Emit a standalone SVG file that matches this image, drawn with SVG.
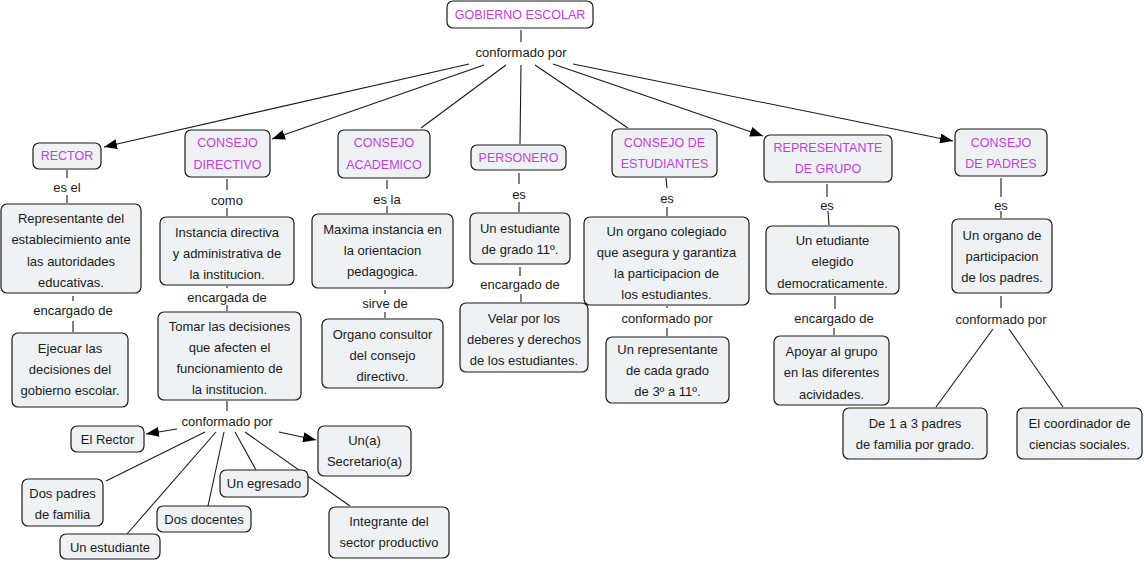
<svg xmlns="http://www.w3.org/2000/svg" width="1144" height="562" viewBox="0 0 1144 562">
<style>
.n rect{fill:#eef2f4;stroke:#1a1a1a;stroke-width:1.2}
.n text,.lbl{font-family:"Liberation Sans",Arial,sans-serif;font-size:13px;fill:#1a1a1a;text-anchor:middle;dominant-baseline:central}
.t text{fill:#c23ee0;font-size:12.5px}
.c line{stroke:#1a1a1a;stroke-width:1.1}
</style>
<defs>
<marker id="ah" markerUnits="userSpaceOnUse" markerWidth="14" markerHeight="10" refX="13" refY="5" orient="auto"><path d="M0,0 L13,5 L0,10 z" fill="#000"/></marker>
</defs>
<rect width="1144" height="562" fill="#fff"/>

<g id="connectors" class="c">
<line x1="521" y1="30" x2="521" y2="42"/>
<line x1="469" y1="64" x2="104" y2="147" marker-end="url(#ah)"/>
<line x1="484" y1="65" x2="272" y2="139" marker-end="url(#ah)"/>
<line x1="506" y1="65" x2="421" y2="128"/>
<line x1="521" y1="65" x2="520" y2="144"/>
<line x1="535" y1="65" x2="628" y2="128"/>
<line x1="553" y1="64" x2="763" y2="136" marker-end="url(#ah)"/>
<line x1="573" y1="64" x2="953" y2="141" marker-end="url(#ah)"/>
<!-- rector -->
<line x1="67" y1="170" x2="67" y2="178"/>
<line x1="67" y1="195" x2="67" y2="203"/>
<line x1="73" y1="296" x2="73" y2="301"/>
<line x1="73" y1="321" x2="73" y2="332"/>
<!-- consejo directivo -->
<line x1="227" y1="179" x2="227" y2="190"/>
<line x1="227" y1="208" x2="227" y2="216"/>
<line x1="227" y1="286" x2="227" y2="288"/>
<line x1="227" y1="305" x2="227" y2="311"/>
<line x1="227" y1="401" x2="227" y2="411"/>
<line x1="177" y1="429" x2="146" y2="434" marker-end="url(#ah)"/>
<line x1="279" y1="432" x2="316" y2="440" marker-end="url(#ah)"/>
<line x1="205" y1="432" x2="106" y2="481"/>
<line x1="216" y1="432" x2="127" y2="534"/>
<line x1="224" y1="432" x2="208" y2="506"/>
<line x1="235" y1="432" x2="256" y2="470"/>
<line x1="245" y1="432" x2="350" y2="506"/>
<!-- academico -->
<line x1="387" y1="180" x2="387" y2="189"/>
<line x1="387" y1="206" x2="387" y2="213"/>
<line x1="385" y1="290" x2="385" y2="294"/>
<line x1="385" y1="312" x2="385" y2="318"/>
<!-- personero -->
<line x1="519" y1="173" x2="519" y2="184"/>
<line x1="519" y1="202" x2="519" y2="212"/>
<line x1="520" y1="267" x2="520" y2="276"/>
<line x1="521" y1="294" x2="521" y2="302"/>
<!-- estudiantes -->
<line x1="666" y1="178" x2="667" y2="188"/>
<line x1="667" y1="207" x2="667" y2="216"/>
<line x1="667" y1="306" x2="667" y2="308"/>
<line x1="667" y1="328" x2="667" y2="336"/>
<!-- representante -->
<line x1="827" y1="184" x2="827" y2="197"/>
<line x1="828" y1="211" x2="829" y2="225"/>
<line x1="835" y1="296" x2="835" y2="309"/>
<line x1="834" y1="328" x2="834" y2="335"/>
<!-- padres -->
<line x1="1001" y1="178" x2="1001" y2="197"/>
<line x1="1001" y1="211" x2="1001" y2="218"/>
<line x1="1001" y1="296" x2="1001" y2="308"/>
<line x1="993" y1="329" x2="936" y2="407"/>
<line x1="1009" y1="329" x2="1063" y2="407"/>
</g>

<g id="labels">
<text class="lbl" x="521" y="52">conformado por</text>
<text class="lbl" x="67" y="187">es el</text>
<text class="lbl" x="73" y="310">encargado de</text>
<text class="lbl" x="227" y="200">como</text>
<text class="lbl" x="227" y="297">encargada de</text>
<text class="lbl" x="227" y="421">conformado por</text>
<text class="lbl" x="387" y="199">es la</text>
<text class="lbl" x="385" y="303">sirve de</text>
<text class="lbl" x="519" y="194">es</text>
<text class="lbl" x="520" y="284">encargado de</text>
<text class="lbl" x="667" y="198">es</text>
<text class="lbl" x="667" y="318">conformado por</text>
<text class="lbl" x="827" y="205">es</text>
<text class="lbl" x="834" y="318">encargado de</text>
<text class="lbl" x="1001" y="205">es</text>
<text class="lbl" x="1001" y="319">conformado por</text>
</g>

<g id="gobierno" class="n t"><rect x="447" y="1" width="146" height="27" rx="6" style="fill:#fff"/><text x="520" y="14.5">GOBIERNO ESCOLAR</text></g>
<g id="rector" class="n t"><rect x="33" y="143" width="68" height="26" rx="6"/><text x="67" y="156">RECTOR</text></g>
<g id="consejo-directivo" class="n t"><rect x="185" y="130" width="85" height="47" rx="6"/><text x="227.5" y="143">CONSEJO</text><text x="227.5" y="165">DIRECTIVO</text></g>
<g id="consejo-academico" class="n t"><rect x="338" y="130" width="92" height="48" rx="6"/><text x="384" y="143">CONSEJO</text><text x="384" y="165">ACADEMICO</text></g>
<g id="personero" class="n t"><rect x="471" y="145" width="95" height="25" rx="6"/><text x="518.5" y="157.5">PERSONERO</text></g>
<g id="consejo-estudiantes" class="n t"><rect x="612" y="129" width="105" height="48" rx="6"/><text x="664.5" y="143">CONSEJO DE</text><text x="664.5" y="164">ESTUDIANTES</text></g>
<g id="representante" class="n t"><rect x="764" y="135" width="128" height="47" rx="6"/><text x="828" y="148">REPRESENTANTE</text><text x="828" y="169">DE GRUPO</text></g>
<g id="consejo-padres" class="n t"><rect x="955" y="129" width="92" height="47" rx="6"/><text x="1001" y="143">CONSEJO</text><text x="1001" y="164">DE PADRES</text></g>

<g id="rector-def" class="n"><rect x="1" y="204" width="140" height="89" rx="6"/><text x="71" y="218">Representante del</text><text x="71" y="239.5">establecimiento ante</text><text x="71" y="261">las autoridades</text><text x="71" y="282.5">educativas.</text></g>
<g id="rector-task" class="n"><rect x="12" y="333" width="116" height="74" rx="6"/><text x="70" y="348">Ejecuar las</text><text x="70" y="369">decisiones del</text><text x="70" y="390">gobierno escolar.</text></g>

<g id="cd-def" class="n"><rect x="160" y="217" width="134" height="68" rx="6"/><text x="227" y="232">Instancia directiva</text><text x="227" y="253">y administrativa de</text><text x="227" y="274">la institucion.</text></g>
<g id="cd-task" class="n"><rect x="158" y="312" width="143" height="88" rx="6"/><text x="229.5" y="326">Tomar las decisiones</text><text x="229.5" y="347">que afecten el</text><text x="229.5" y="368">funcionamiento de</text><text x="229.5" y="389">la institucion.</text></g>
<g id="el-rector" class="n"><rect x="71" y="426" width="73" height="26" rx="6"/><text x="107.5" y="439">El Rector</text></g>
<g id="secretario" class="n"><rect x="318" y="426" width="93" height="50" rx="6"/><text x="364.5" y="440">Un(a)</text><text x="364.5" y="461">Secretario(a)</text></g>
<g id="dos-padres" class="n"><rect x="22" y="479" width="81" height="47" rx="6"/><text x="62.5" y="493">Dos padres</text><text x="62.5" y="514">de familia</text></g>
<g id="un-estudiante" class="n"><rect x="60" y="534" width="100" height="25" rx="6"/><text x="110" y="547">Un estudiante</text></g>
<g id="dos-docentes" class="n"><rect x="157" y="506" width="94" height="26" rx="6"/><text x="204" y="519">Dos docentes</text></g>
<g id="egresado" class="n"><rect x="220" y="470" width="88" height="27" rx="6"/><text x="264" y="483.5">Un egresado</text></g>
<g id="integrante" class="n"><rect x="329" y="507" width="120" height="51" rx="6"/><text x="389" y="521">Integrante del</text><text x="389" y="542">sector productivo</text></g>

<g id="ca-def" class="n"><rect x="312" y="214" width="141" height="74" rx="6"/><text x="382.5" y="229">Maxima instancia en</text><text x="382.5" y="250">la orientacion</text><text x="382.5" y="271">pedagogica.</text></g>
<g id="ca-task" class="n"><rect x="322" y="319" width="121" height="69" rx="6"/><text x="382.5" y="334">Organo consultor</text><text x="382.5" y="355">del consejo</text><text x="382.5" y="376">directivo.</text></g>

<g id="pers-def" class="n"><rect x="470" y="213" width="100" height="51" rx="6"/><text x="520" y="228">Un estudiante</text><text x="520" y="249">de grado 11º.</text></g>
<g id="pers-task" class="n"><rect x="460" y="303" width="128" height="69" rx="6"/><text x="524" y="318">Velar por los</text><text x="524" y="339">deberes y derechos</text><text x="524" y="360">de los estudiantes.</text></g>

<g id="ce-def" class="n"><rect x="584" y="217" width="165" height="88" rx="6"/><text x="666.5" y="231">Un organo colegiado</text><text x="666.5" y="252">que asegura y garantiza</text><text x="666.5" y="273">la participacion de</text><text x="666.5" y="294">los estudiantes.</text></g>
<g id="ce-comp" class="n"><rect x="606" y="337" width="123" height="66" rx="6"/><text x="667.5" y="349.5">Un representante</text><text x="667.5" y="370.5">de cada grado</text><text x="667.5" y="391.5">de 3º a 11º.</text></g>

<g id="rg-def" class="n"><rect x="766" y="226" width="133" height="68" rx="6"/><text x="832.5" y="240">Un etudiante</text><text x="832.5" y="261.5">elegido</text><text x="832.5" y="283">democraticamente.</text></g>
<g id="rg-task" class="n"><rect x="774" y="336" width="115" height="69" rx="6"/><text x="831.5" y="351">Apoyar al grupo</text><text x="831.5" y="372.5">en las diferentes</text><text x="831.5" y="394">acividades.</text></g>

<g id="cp-def" class="n"><rect x="952" y="219" width="100" height="74" rx="6"/><text x="1002" y="235">Un organo de</text><text x="1002" y="256">participacion</text><text x="1002" y="277">de los padres.</text></g>
<g id="cp-padres" class="n"><rect x="843" y="408" width="144" height="51" rx="6"/><text x="915" y="423">De 1 a 3 padres</text><text x="915" y="444">de familia por grado.</text></g>
<g id="cp-coord" class="n"><rect x="1017" y="408" width="125" height="51" rx="6"/><text x="1079.5" y="423">El coordinador de</text><text x="1079.5" y="444">ciencias sociales.</text></g>
</svg>
